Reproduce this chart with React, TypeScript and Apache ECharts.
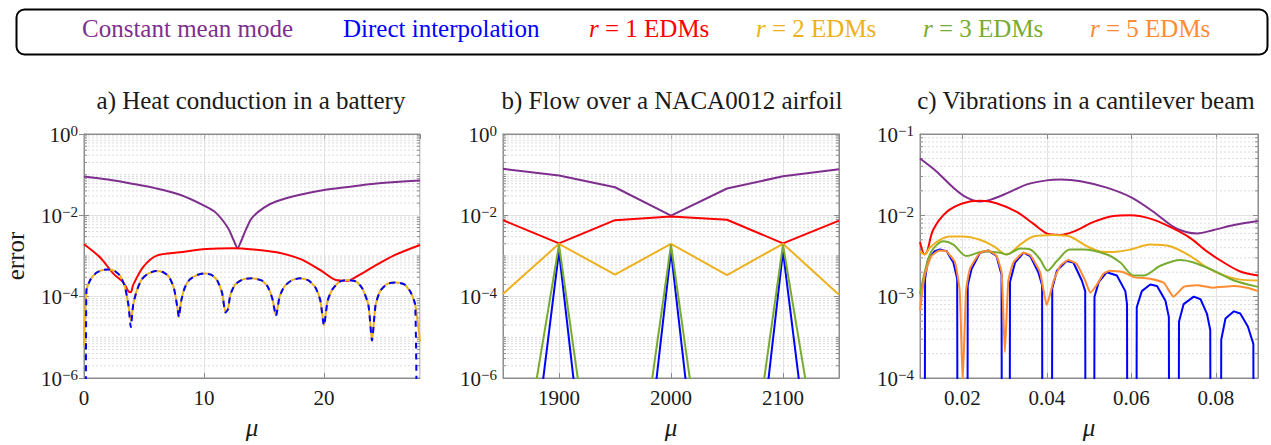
import React, { useEffect, useRef } from "react";
import * as echarts from "echarts";

const FONT = "Times";
const TEXT_COLOR = "#1a1a1a";
const FRAME_COLOR = "#8c8c8c";

const SERIES_NAMES = [
  "Constant mean mode",
  "Direct interpolation",
  "r = 1 EDMs",
  "r = 2 EDMs",
  "r = 3 EDMs",
  "r = 5 EDMs",
];
const SERIES_COLORS = ["#7E2F8E", "#0000FF", "#FF0000", "#EDB120", "#77AC30", "#FF8C33"];
const LEGEND_CENTERS = [187, 440, 647, 814, 981, 1148];
const PANEL_TITLES = [
  "a) Heat conduction in a battery",
  "b) Flow over a NACA0012 airfoil",
  "c) Vibrations in a cantilever beam",
];
const TITLE_CENTERS = [246, 667, 1081];
const X_NAME = "μ";
const Y_NAME = "error";

// ---------- a) Heat conduction in a battery ----------
const heatMean: [number, number][] = [
  [0, 9.0e-2], [2, 7.6e-2], [4, 6.0e-2], [6, 4.6e-2], [8, 3.2e-2], [10, 1.74e-2],
  [11, 1.15e-2], [12, 4.9e-3], [12.5, 2.34e-3], [12.8, 1.58e-3], [13.1, 2.34e-3],
  [13.5, 4.5e-3], [14, 8.7e-3], [15, 1.55e-2], [16, 2.19e-2], [18, 3.2e-2],
  [20, 4.2e-2], [22, 5.0e-2], [24, 5.9e-2], [26, 6.6e-2], [28, 7.2e-2],
];
const heatR1: [number, number][] = [
  [0, 1.95e-3], [1.33, 9.3e-4], [2.44, 3.7e-4], [3.28, 2.24e-4], [3.7, 1.35e-4],
  [3.9, 1.29e-4], [4.1, 1.95e-4], [4.94, 5.4e-4], [6.06, 1.02e-3], [8, 1.23e-3],
  [10.2, 1.48e-3], [12.4, 1.55e-3], [14.1, 1.45e-3], [16.05, 1.23e-3], [18, 8.5e-4],
  [19.7, 4.5e-4], [21, 2.57e-4], [21.9, 2.45e-4], [22.7, 3.1e-4], [24.1, 5.4e-4],
  [25.8, 1.02e-3], [28, 1.86e-3],
];
const heatDirect: [number, number][] = [
  [0.15, 1e-8], [0.2, 1.41e-4], [0.5, 2.51e-4], [1.0, 3.8e-4], [1.5, 4.47e-4], [2.0, 4.68e-4],
  [2.5, 4.37e-4], [3.0, 3.31e-4], [3.4, 1.78e-4], [3.7, 6.3e-5], [3.9, 1.78e-5], [4.1, 6.3e-5],
  [4.4, 1.41e-4], [4.8, 2.63e-4], [5.3, 3.63e-4], [6.0, 4.27e-4], [6.6, 3.98e-4], [7.1, 3.02e-4],
  [7.5, 1.58e-4], [7.8, 5.0e-5], [7.9, 3.16e-5], [8.1, 7.9e-5], [8.4, 1.66e-4], [8.8, 2.63e-4],
  [9.4, 3.39e-4], [10.0, 3.72e-4], [10.6, 3.47e-4], [11.1, 2.51e-4], [11.5, 1.26e-4],
  [11.8, 4.07e-5], [12.0, 5.0e-5], [12.2, 1.12e-4], [12.6, 2.0e-4], [13.2, 2.63e-4],
  [14.0, 2.82e-4], [14.8, 2.51e-4], [15.3, 1.78e-4], [15.7, 8.9e-5], [16.0, 3.39e-5],
  [16.3, 1.0e-4], [16.7, 1.78e-4], [17.3, 2.51e-4], [18.0, 2.82e-4], [18.7, 2.51e-4],
  [19.3, 1.66e-4], [19.7, 7.9e-5], [20.0, 1.95e-5], [20.3, 7.9e-5], [20.7, 1.51e-4],
  [21.3, 2.34e-4], [22.0, 2.57e-4], [22.7, 2.34e-4], [23.2, 1.58e-4], [23.7, 6.3e-5],
  [24.0, 8.3e-6], [24.3, 6.3e-5], [24.7, 1.41e-4], [25.3, 2.09e-4], [26.0, 2.24e-4],
  [26.7, 2.0e-4], [27.2, 1.32e-4], [27.6, 6.3e-5], [27.75, 1e-8],
];
const heatR2: [number, number][] = [
  [0, 6.3e-6], [0.2, 1.41e-4], [0.5, 2.51e-4], [1.0, 3.8e-4], [1.5, 4.47e-4], [2.0, 4.68e-4],
  [2.5, 4.37e-4], [3.0, 3.31e-4], [3.4, 1.78e-4], [3.7, 6.3e-5], [3.9, 2.51e-5], [4.1, 6.3e-5],
  [4.4, 1.41e-4], [4.8, 2.63e-4], [5.3, 3.63e-4], [6.0, 4.27e-4], [6.6, 3.98e-4], [7.1, 3.02e-4],
  [7.5, 1.58e-4], [7.8, 5.0e-5], [7.9, 3.16e-5], [8.1, 7.9e-5], [8.4, 1.66e-4], [8.8, 2.63e-4],
  [9.4, 3.39e-4], [10.0, 3.72e-4], [10.6, 3.47e-4], [11.1, 2.51e-4], [11.5, 1.26e-4],
  [11.8, 4.07e-5], [12.0, 5.0e-5], [12.2, 1.12e-4], [12.6, 2.0e-4], [13.2, 2.63e-4],
  [14.0, 2.82e-4], [14.8, 2.51e-4], [15.3, 1.78e-4], [15.7, 8.9e-5], [16.0, 3.39e-5],
  [16.3, 1.0e-4], [16.7, 1.78e-4], [17.3, 2.51e-4], [18.0, 2.82e-4], [18.7, 2.51e-4],
  [19.3, 1.66e-4], [19.7, 7.9e-5], [20.0, 1.95e-5], [20.3, 7.9e-5], [20.7, 1.51e-4],
  [21.3, 2.34e-4], [22.0, 2.57e-4], [22.7, 2.34e-4], [23.2, 1.58e-4], [23.7, 6.3e-5],
  [24.0, 8.3e-6], [24.3, 6.3e-5], [24.7, 1.41e-4], [25.3, 2.09e-4], [26.0, 2.24e-4],
  [26.7, 2.0e-4], [27.2, 1.32e-4], [27.6, 6.3e-5], [27.8, 2.5e-5], [28, 7.9e-6],
];

// ---------- b) Flow over a NACA0012 airfoil ----------
const airfoilMu = [1850, 1900, 1950, 2000, 2050, 2100, 2150];
const airfoilMean = [0.139, 0.0955, 0.049, 9.8e-3, 0.0457, 0.0912, 0.135];
const airfoilDirect = [1e-14, 1.3e-3, 1e-15, 1.3e-3, 1e-15, 1.3e-3, 1e-14];
const airfoilR1 = [7.6e-3, 2.04e-3, 7.6e-3, 9.3e-3, 7.8e-3, 2.04e-3, 7.4e-3];
const airfoilR2 = [1.17e-4, 2.0e-3, 3.47e-4, 2.0e-3, 3.39e-4, 2.0e-3, 1.12e-4];
const airfoilR3 = [1e-11, 1.9e-3, 3e-13, 1.9e-3, 3e-13, 1.9e-3, 1e-11];

// ---------- c) Vibrations in a cantilever beam ----------
const beamMean: [number, number][] = [
  [0.01, 5.0e-2], [0.0139, 3.47e-2], [0.0179, 2.19e-2], [0.021, 1.66e-2], [0.0242, 1.48e-2],
  [0.0266, 1.55e-2], [0.0305, 1.86e-2], [0.0353, 2.4e-2], [0.04, 2.69e-2], [0.0432, 2.75e-2],
  [0.048, 2.63e-2], [0.0542, 2.19e-2], [0.06, 1.66e-2], [0.0653, 1.1e-2], [0.07, 7.2e-3],
  [0.0732, 6.2e-3], [0.0756, 6.0e-3], [0.0795, 6.6e-3], [0.0843, 7.6e-3], [0.09, 8.5e-3],
];
const beamDirect: [number, number][] = [
  [0.01, 1e-6], [0.0111, 1e-6], [0.0112, 1.66e-3], [0.0119, 2.88e-3], [0.0135, 3.63e-3],
  [0.0147, 3.8e-3], [0.0163, 3.63e-3], [0.0179, 2.63e-3], [0.0188, 1.66e-3], [0.0189, 1e-6],
  [0.0212, 1e-6], [0.0213, 1.38e-3], [0.0222, 2.19e-3], [0.0242, 3.47e-3], [0.0262, 3.7e-3],
  [0.0281, 3.16e-3], [0.0293, 1.86e-3], [0.0294, 1e-6],
  [0.0312, 1e-6], [0.0313, 1.51e-3], [0.0325, 2.63e-3], [0.0345, 3.47e-3], [0.0361, 3.16e-3],
  [0.038, 2.0e-3], [0.0389, 1.38e-3], [0.039, 1e-6],
  [0.0412, 1e-6], [0.0413, 1.26e-3], [0.0424, 2.09e-3], [0.0447, 2.75e-3], [0.0463, 2.63e-3],
  [0.0483, 1.58e-3], [0.0491, 1.17e-3], [0.0492, 1e-6],
  [0.0512, 1e-6], [0.0513, 1.0e-3], [0.0523, 1.51e-3], [0.0542, 2.0e-3], [0.0566, 1.82e-3],
  [0.0586, 1.17e-3], [0.059, 8.1e-4], [0.0591, 1e-6],
  [0.0612, 1e-6], [0.0613, 7.4e-4], [0.0625, 1.17e-3], [0.0645, 1.41e-3], [0.0661, 1.35e-3],
  [0.0681, 8.9e-4], [0.0689, 5.6e-4], [0.069, 1e-6],
  [0.0712, 1e-6], [0.0713, 4.9e-4], [0.0724, 8.1e-4], [0.0748, 1.0e-3], [0.0764, 9.3e-4],
  [0.0779, 6.2e-4], [0.0787, 3.9e-4], [0.0788, 1e-6],
  [0.0812, 1e-6], [0.0813, 2.95e-4], [0.0823, 5.4e-4], [0.0843, 6.6e-4], [0.0858, 6.2e-4],
  [0.0876, 4.3e-4], [0.0889, 2.63e-4], [0.089, 1e-6], [0.09, 1e-6],
];
const beamR1: [number, number][] = [
  [0.01, 4.7e-3], [0.0111, 3.3e-3], [0.0117, 3.6e-3], [0.0131, 6.6e-3], [0.0163, 1.1e-2],
  [0.0202, 1.41e-2], [0.0242, 1.51e-2], [0.0281, 1.41e-2], [0.0329, 1.1e-2], [0.0368, 7.9e-3],
  [0.04, 6.0e-3], [0.0432, 5.75e-3], [0.0463, 6.3e-3], [0.0511, 8.3e-3], [0.0558, 9.8e-3],
  [0.0598, 1.0e-2], [0.0645, 9.1e-3], [0.0692, 7.2e-3], [0.074, 5.25e-3], [0.0779, 3.6e-3],
  [0.0819, 2.63e-3], [0.0858, 2.04e-3], [0.09, 1.82e-3],
];
const beamR2: [number, number][] = [
  [0.01, 3.6e-3], [0.0111, 3.3e-3], [0.0123, 4.0e-3], [0.0147, 5.0e-3], [0.0171, 5.5e-3],
  [0.0202, 5.5e-3], [0.0242, 5.0e-3], [0.0274, 4.17e-3], [0.0305, 3.3e-3], [0.0337, 4.37e-3],
  [0.0368, 5.5e-3], [0.0416, 5.75e-3], [0.0455, 5.5e-3], [0.0495, 4.17e-3], [0.0526, 3.6e-3],
  [0.0558, 3.55e-3], [0.0598, 3.8e-3], [0.0645, 4.37e-3], [0.0692, 4.17e-3], [0.074, 3.16e-3],
  [0.0779, 2.29e-3], [0.0819, 1.82e-3], [0.0858, 1.62e-3], [0.09, 1.58e-3],
];
const beamR3: [number, number][] = [
  [0.01, 1.07e-3], [0.0111, 2.0e-3], [0.0127, 3.6e-3], [0.0155, 4.8e-3], [0.0179, 4.37e-3],
  [0.021, 3.16e-3], [0.025, 3.6e-3], [0.029, 3.47e-3], [0.0305, 3.3e-3], [0.0337, 3.9e-3],
  [0.0361, 3.8e-3], [0.0384, 2.88e-3], [0.0402, 2.09e-3], [0.0424, 2.75e-3], [0.0455, 3.8e-3],
  [0.0487, 3.8e-3], [0.0542, 3.3e-3], [0.0574, 2.63e-3], [0.0606, 1.82e-3], [0.0629, 1.82e-3],
  [0.0669, 2.4e-3], [0.0716, 2.82e-3], [0.0748, 2.63e-3], [0.0795, 2.09e-3], [0.0843, 1.58e-3],
  [0.09, 1.32e-3],
];
const beamR5: [number, number][] = [
  [0.01, 6.8e-4], [0.0111, 1.82e-3], [0.0127, 3.16e-3], [0.0147, 3.7e-3], [0.0163, 3.6e-3],
  [0.0183, 2.63e-3], [0.0194, 1.17e-3], [0.0201, 9e-5], [0.0209, 1.17e-3], [0.0218, 2.19e-3],
  [0.0242, 3.47e-3], [0.0262, 3.7e-3], [0.0281, 3.16e-3], [0.0293, 2.0e-3], [0.0301, 2.09e-4],
  [0.0309, 1.55e-3], [0.0321, 2.63e-3], [0.0345, 3.47e-3], [0.0361, 3.24e-3], [0.0384, 2.0e-3],
  [0.04, 7.9e-4], [0.0416, 1.55e-3], [0.0432, 2.4e-3], [0.0451, 2.82e-3], [0.0471, 2.51e-3],
  [0.0491, 1.58e-3], [0.0503, 1.12e-3], [0.0519, 1.41e-3], [0.0534, 1.91e-3], [0.055, 2.09e-3],
  [0.0582, 2.0e-3], [0.0606, 1.74e-3], [0.0645, 1.66e-3], [0.0677, 1.48e-3], [0.07, 1.0e-3],
  [0.0724, 1.32e-3], [0.0756, 1.38e-3], [0.0795, 1.29e-3], [0.0843, 1.35e-3], [0.0874, 1.29e-3],
  [0.09, 1.17e-3],
];

const GRIDS = [
  { left: 84, top: 134, width: 336, height: 250 },
  { left: 503, top: 134, width: 336, height: 250 },
  { left: 920, top: 134, width: 338, height: 250 },
];
const X_RANGES: [number, number, number][] = [
  [0, 28, 3],
  [1850, 2150, 3],
  [0.01, 0.09, 4],
];
const Y_RANGES: [number, number, number][] = [
  [1e-6, 1, 100],
  [1e-6, 1, 100],
  [1e-4, 1e-1, 10],
];
const MINOR_TICK_PX = 3;

function minorGridValues(minExp: number, maxExp: number, base: number): number[] {
  const out: number[] = [];
  for (let e = minExp; e < maxExp; e++) {
    for (let m = 2; m <= 9; m++) out.push(m * Math.pow(10, e));
    if (base === 100 && e % 2 !== 0) out.push(Math.pow(10, e));
  }
  return out;
}

function supLabel(v: number): string {
  const e = Math.round(Math.log10(v));
  const s = e < 0 ? "−" + String(-e) : String(e);
  return `{b|10}{s|${s}}`;
}

export default function App() {
  const ref = useRef<HTMLDivElement>(null);

  useEffect(() => {
    document.body.style.margin = "0";
    if (!ref.current) return;
    const chart = echarts.init(ref.current, undefined, { renderer: "svg" });

    const canvas = document.createElement("canvas");
    const ctx = canvas.getContext("2d")!;
    ctx.font = `25px ${FONT}`;

    const labelRich = {
      b: { fontFamily: FONT, fontSize: 21, color: TEXT_COLOR, verticalAlign: "bottom", lineHeight: 22 },
      s: { fontFamily: FONT, fontSize: 15, color: TEXT_COLOR, verticalAlign: "top", lineHeight: 15, padding: [0, 0, 10, 0] },
    };

    const xAxes: any[] = [];
    const yAxes: any[] = [];
    GRIDS.forEach((_, gi) => {
      const [xmin, xmax, split] = X_RANGES[gi];
      const [ymin, ymax, base] = Y_RANGES[gi];
      xAxes.push({
        type: "value", gridIndex: gi, min: xmin, max: xmax, splitNumber: split,
        name: X_NAME, nameLocation: "middle", nameGap: 37,
        nameTextStyle: { fontFamily: FONT, fontSize: 25, fontStyle: "italic", fontWeight: "normal", color: TEXT_COLOR },
        axisLine: { show: true, lineStyle: { color: FRAME_COLOR } },
        axisTick: { show: true, inside: true, length: 5, lineStyle: { color: FRAME_COLOR } },
        axisLabel: {
          fontFamily: FONT, fontSize: 21, fontWeight: "normal", fontStyle: "normal", color: TEXT_COLOR, margin: 9,
          showMinLabel: gi === 0, showMaxLabel: false,
          formatter: (v: number) => String(Number(v.toPrecision(6))),
        },
        splitLine: { show: true, lineStyle: { color: "#e3e3e3", width: 1 } },
      });
      xAxes.push({
        type: "value", gridIndex: gi, min: xmin, max: xmax, splitNumber: split, position: "top",
        axisLine: { show: true, lineStyle: { color: FRAME_COLOR } },
        axisTick: { show: true, inside: true, length: 5, lineStyle: { color: FRAME_COLOR } },
        axisLabel: { show: false }, splitLine: { show: false },
      });
      yAxes.push({
        type: "log", logBase: base, gridIndex: gi, min: ymin, max: ymax,
        name: gi === 0 ? Y_NAME : "", nameLocation: "middle", nameGap: 56, nameRotate: 90,
        nameTextStyle: { fontFamily: FONT, fontSize: 25, fontWeight: "normal", color: TEXT_COLOR },
        axisLine: { show: true, lineStyle: { color: FRAME_COLOR } },
        axisTick: { show: true, inside: true, length: 5, lineStyle: { color: FRAME_COLOR } },
        axisLabel: { formatter: supLabel, rich: labelRich, margin: 6, fontFamily: FONT, fontWeight: "normal" },
        splitLine: { show: true, lineStyle: { color: "#e3e3e3", width: 1 } },
      });
      yAxes.push({
        type: "log", logBase: base, gridIndex: gi, min: ymin, max: ymax, position: "right",
        axisLine: { show: true, lineStyle: { color: FRAME_COLOR } },
        axisTick: { show: true, inside: true, length: 5, lineStyle: { color: FRAME_COLOR } },
        axisLabel: { show: false }, splitLine: { show: false },
      });
    });

    // dotted minor grid (2..9 per decade) and short minor ticks, drawn as broken lines
    const minorSeries: any[] = [];
    GRIDS.forEach((g, gi) => {
      const [xmin, xmax] = X_RANGES[gi];
      const [ymin, ymax, base] = Y_RANGES[gi];
      const vals = minorGridValues(Math.round(Math.log10(ymin)), Math.round(Math.log10(ymax)), base);
      const dx = ((xmax - xmin) * MINOR_TICK_PX) / g.width;
      const gridPts: any[] = [];
      const tickPts: any[] = [];
      vals.forEach((v) => {
        gridPts.push([xmin, v], [xmax, v], [xmin, "-"]);
        tickPts.push([xmin, v], [xmin + dx, v], [xmin, "-"], [xmax - dx, v], [xmax, v], [xmax, "-"]);
      });
      minorSeries.push({
        type: "line", xAxisIndex: gi * 2, yAxisIndex: gi * 2, data: gridPts, silent: true,
        showSymbol: false, symbol: "none", connectNulls: false, z: 1,
        lineStyle: { type: [2, 2], color: "#dcdcdc", width: 1 },
        emphasis: { disabled: true }, tooltip: { show: false },
      });
      minorSeries.push({
        type: "line", xAxisIndex: gi * 2, yAxisIndex: gi * 2, data: tickPts, silent: true,
        showSymbol: false, symbol: "none", connectNulls: false, z: 2,
        lineStyle: { color: FRAME_COLOR, width: 1 },
        emphasis: { disabled: true }, tooltip: { show: false },
      });
    });

    const line = (nameIdx: number, gi: number, data: any[], extra: any = {}) => ({
      type: "line", name: SERIES_NAMES[nameIdx], xAxisIndex: gi * 2, yAxisIndex: gi * 2,
      data, showSymbol: false, symbol: "none", clip: true, z: 3,
      lineStyle: { color: SERIES_COLORS[nameIdx], width: 2, ...(extra.lineStyle || {}) },
      itemStyle: { color: SERIES_COLORS[nameIdx] },
      emphasis: { disabled: true },
      smooth: extra.smooth ?? 0,
    });

    const zipB = (ys: number[]) => airfoilMu.map((m, i) => [m, ys[i]]);

    const series = [
      ...minorSeries,
      line(0, 0, heatMean, { smooth: 0.3 }),
      line(2, 0, heatR1, { smooth: 0.3 }),
      line(3, 0, heatR2, { smooth: 0.2 }),
      line(1, 0, heatDirect, { smooth: 0.2, lineStyle: { type: [6, 5] } }),

      line(0, 1, zipB(airfoilMean)),
      line(2, 1, zipB(airfoilR1)),
      line(3, 1, zipB(airfoilR2)),
      line(1, 1, zipB(airfoilDirect)),
      line(4, 1, zipB(airfoilR3)),

      line(0, 2, beamMean, { smooth: 0.3 }),
      line(1, 2, beamDirect),
      line(2, 2, beamR1, { smooth: 0.3 }),
      line(3, 2, beamR2, { smooth: 0.3 }),
      line(4, 2, beamR3, { smooth: 0.3 }),
      line(5, 2, beamR5, { smooth: 0.15 }),
    ];

    const legends = SERIES_NAMES.map((name, i) => {
      const w = ctx.measureText(name).width;
      const isR = name.startsWith("r ");
      const lg: any = {
        data: [name], selectedMode: false, orient: "horizontal",
        left: Math.round(LEGEND_CENTERS[i] - w / 2 - 5), top: 16,
        itemWidth: 0, itemHeight: 0, padding: 0,
        textStyle: { fontFamily: FONT, fontSize: 25, fontWeight: "normal", color: SERIES_COLORS[i] },
      };
      if (isR) {
        lg.textStyle.rich = {
          i: { fontFamily: FONT, fontSize: 25, fontStyle: "italic", fontWeight: "normal", color: SERIES_COLORS[i] },
          t: { fontFamily: FONT, fontSize: 25, fontWeight: "normal", color: SERIES_COLORS[i] },
        };
        lg.formatter = (n: string) => `{i|r}{t|${n.slice(1)}}`;
      }
      return lg;
    });

    chart.setOption({
      animation: false,
      backgroundColor: "#ffffff",
      textStyle: { fontFamily: FONT, fontWeight: "normal" },
      title: PANEL_TITLES.map((t, i) => ({
        text: t, left: TITLE_CENTERS[i], top: 83, textAlign: "center",
        textStyle: { fontFamily: FONT, fontSize: 25, fontWeight: "normal", color: TEXT_COLOR },
      })),
      legend: legends,
      graphic: [
        {
          type: "rect", left: 14, top: 7, silent: true,
          shape: { width: 1251, height: 45, r: 8 },
          style: { fill: "none", stroke: "#000", lineWidth: 2 },
        },
      ],
      grid: GRIDS.map((g) => ({ ...g, show: true, borderColor: FRAME_COLOR, borderWidth: 1, backgroundColor: "#fff" })),
      xAxis: xAxes,
      yAxis: yAxes,
      series,
    });

    return () => chart.dispose();
  }, []);

  return <div ref={ref} style={{ width: 1271, height: 445 }} />;
}
